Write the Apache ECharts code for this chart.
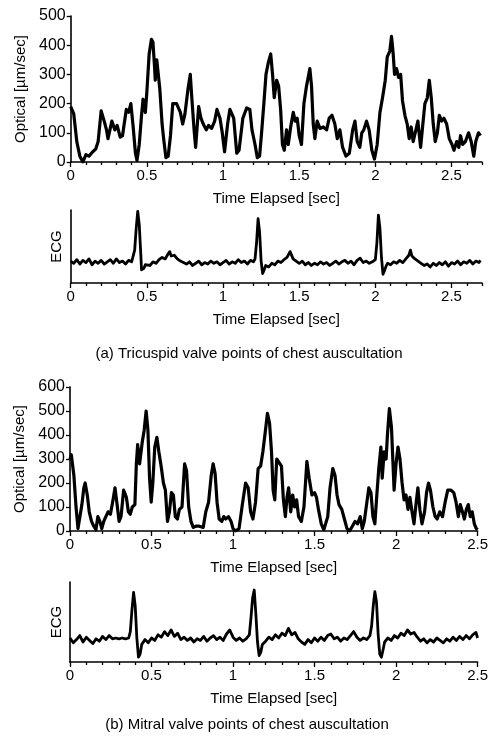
<!DOCTYPE html>
<html><head><meta charset="utf-8">
<script src="https://cdn.jsdelivr.net/npm/echarts@6/dist/echarts.min.js"></script>
<style>html,body{margin:0;padding:0;background:#fff}#c{width:491px;height:742px}</style>
</head><body><div id="c"></div>
<script>
// ---- data (time [sec], value) ----
const opticalA = [[0,190],[0.02,165],[0.04,70],[0.06,20],[0.08,0],[0.10,25],[0.12,20],[0.145,35],[0.165,45],[0.18,70],[0.20,175],[0.22,140],[0.235,110],[0.245,80],[0.27,140],[0.29,110],[0.305,125],[0.325,85],[0.34,90],[0.365,180],[0.38,170],[0.395,200],[0.41,120],[0.425,30],[0.435,5],[0.45,60],[0.465,160],[0.475,215],[0.49,170],[0.50,240],[0.515,370],[0.53,420],[0.54,410],[0.55,330],[0.555,280],[0.565,350],[0.575,300],[0.585,250],[0.60,130],[0.61,80],[0.625,15],[0.64,20],[0.655,90],[0.67,200],[0.695,200],[0.72,170],[0.735,130],[0.75,165],[0.77,250],[0.785,300],[0.795,220],[0.81,110],[0.82,50],[0.84,190],[0.855,150],[0.87,130],[0.89,110],[0.905,125],[0.925,115],[0.945,140],[0.96,180],[0.98,150],[0.995,100],[1.01,35],[1.03,130],[1.045,180],[1.07,150],[1.09,30],[1.105,40],[1.13,150],[1.155,185],[1.176,180],[1.19,110],[1.21,60],[1.225,15],[1.24,20],[1.253,100],[1.268,200],[1.282,300],[1.297,340],[1.313,370],[1.325,300],[1.336,220],[1.352,280],[1.365,260],[1.378,180],[1.39,60],[1.402,40],[1.417,110],[1.428,60],[1.444,120],[1.461,170],[1.474,140],[1.487,150],[1.5,90],[1.515,60],[1.531,200],[1.548,260],[1.57,320],[1.581,260],[1.592,130],[1.603,80],[1.618,140],[1.636,115],[1.658,120],[1.68,110],[1.697,150],[1.715,160],[1.734,130],[1.75,80],[1.767,110],[1.785,50],[1.807,20],[1.829,30],[1.851,110],[1.866,140],[1.881,70],[1.898,50],[1.911,100],[1.924,110],[1.942,140],[1.959,110],[1.977,40],[1.994,10],[2.012,60],[2.03,170],[2.047,220],[2.065,280],[2.078,360],[2.095,380],[2.106,430],[2.117,370],[2.126,300],[2.139,320],[2.152,290],[2.166,300],[2.178,210],[2.194,160],[2.209,130],[2.222,80],[2.235,120],[2.248,70],[2.266,110],[2.279,140],[2.297,50],[2.31,120],[2.325,200],[2.341,220],[2.354,280],[2.367,220],[2.38,130],[2.393,70],[2.407,100],[2.42,160],[2.435,140],[2.45,150],[2.468,130],[2.485,80],[2.503,60],[2.516,40],[2.534,70],[2.548,50],[2.559,90],[2.573,60],[2.591,70],[2.612,100],[2.629,70],[2.646,20],[2.659,70],[2.677,100],[2.69,90]];

const ecgA = [[0,.30],[.02,.27],[.04,.32],[.06,.26],[.08,.31],[.10,.28],[.12,.33],[.14,.25],[.16,.30],[.18,.27],[.20,.31],[.22,.26],[.24,.29],[.26,.32],[.28,.27],[.30,.33],[.32,.28],[.34,.30],[.36,.26],[.38,.31],[.40,.29],[.41,.30],[.42,.45],[.43,.75],[.44,.98],[.45,.80],[.46,.40],[.465,.18],[.47,.155],[.48,.20],[.49,.25],[.50,.27],[.52,.24],[.54,.29],[.56,.27],[.58,.32],[.60,.35],[.62,.33],[.64,.40],[.65,.43],[.66,.37],[.68,.38],[.70,.33],[.72,.30],[.74,.28],[.76,.26],[.78,.29],[.80,.24],[.82,.27],[.84,.30],[.86,.25],[.88,.28],[.90,.26],[.92,.30],[.94,.27],[.96,.29],[.98,.25],[1.00,.28],[1.02,.31],[1.04,.26],[1.06,.29],[1.08,.27],[1.10,.32],[1.12,.28],[1.14,.30],[1.16,.26],[1.18,.31],[1.20,.29],[1.21,.33],[1.22,.55],[1.23,.88],[1.24,.70],[1.25,.30],[1.26,.13],[1.27,.18],[1.28,.24],[1.30,.22],[1.32,.27],[1.34,.25],[1.36,.30],[1.38,.28],[1.40,.32],[1.42,.35],[1.44,.43],[1.46,.33],[1.48,.30],[1.50,.27],[1.52,.30],[1.54,.25],[1.56,.28],[1.58,.24],[1.60,.27],[1.62,.25],[1.64,.29],[1.66,.26],[1.68,.28],[1.70,.24],[1.72,.27],[1.74,.30],[1.76,.26],[1.78,.29],[1.80,.31],[1.82,.27],[1.84,.30],[1.86,.25],[1.88,.31],[1.90,.34],[1.92,.28],[1.94,.30],[1.96,.27],[1.98,.29],[2.00,.32],[2.01,.55],[2.02,.93],[2.03,.75],[2.04,.35],[2.05,.12],[2.06,.17],[2.07,.23],[2.08,.27],[2.10,.25],[2.12,.29],[2.14,.27],[2.16,.31],[2.18,.28],[2.20,.33],[2.22,.38],[2.23,.45],[2.24,.37],[2.26,.33],[2.28,.30],[2.30,.27],[2.32,.24],[2.34,.26],[2.36,.22],[2.38,.27],[2.40,.24],[2.42,.28],[2.44,.25],[2.46,.29],[2.48,.23],[2.50,.28],[2.52,.26],[2.54,.30],[2.56,.25],[2.58,.29],[2.60,.27],[2.62,.31],[2.64,.26],[2.66,.30],[2.68,.28],[2.69,.31]];

const opticalB = [[0,300],[0.008,318],[0.016,310],[0.024,230],[0.037,100],[0.049,10],[0.061,60],[0.073,110],[0.085,180],[0.093,200],[0.106,150],[0.118,80],[0.132,40],[0.146,20],[0.159,5],[0.171,60],[0.183,40],[0.195,10],[0.207,40],[0.22,60],[0.234,80],[0.248,70],[0.264,130],[0.276,180],[0.289,110],[0.301,40],[0.313,60],[0.329,170],[0.346,140],[0.358,80],[0.37,70],[0.382,100],[0.398,110],[0.407,280],[0.415,360],[0.427,280],[0.443,370],[0.455,420],[0.467,500],[0.478,420],[0.488,220],[0.498,120],[0.508,200],[0.52,350],[0.533,390],[0.545,330],[0.559,270],[0.573,200],[0.585,170],[0.598,40],[0.61,80],[0.622,160],[0.634,150],[0.646,60],[0.659,50],[0.671,90],[0.687,100],[0.703,280],[0.715,250],[0.728,100],[0.742,40],[0.756,15],[0.772,20],[0.793,20],[0.817,15],[0.833,80],[0.85,120],[0.866,230],[0.878,280],[0.89,240],[0.902,120],[0.915,50],[0.931,40],[0.943,60],[0.955,50],[0.972,60],[0.988,40],[1.0,10],[1.016,0],[1.037,10],[1.057,110],[1.077,200],[1.093,180],[1.108,80],[1.122,50],[1.138,120],[1.154,260],[1.169,270],[1.183,330],[1.199,420],[1.211,490],[1.224,450],[1.236,330],[1.246,170],[1.256,130],[1.268,300],[1.28,295],[1.297,270],[1.309,130],[1.321,60],[1.331,140],[1.341,180],[1.354,80],[1.366,150],[1.378,100],[1.39,130],[1.402,60],[1.419,40],[1.435,100],[1.453,290],[1.467,220],[1.484,150],[1.5,160],[1.512,140],[1.524,90],[1.541,30],[1.557,5],[1.569,0],[1.581,60],[1.595,180],[1.612,260],[1.626,230],[1.638,150],[1.65,110],[1.667,90],[1.683,50],[1.699,10],[1.715,0],[1.732,20],[1.748,40],[1.764,30],[1.78,60],[1.793,10],[1.805,40],[1.819,110],[1.833,180],[1.846,160],[1.858,60],[1.87,30],[1.882,150],[1.894,260],[1.907,350],[1.915,220],[1.927,330],[1.939,300],[1.947,400],[1.959,510],[1.972,430],[1.98,300],[1.988,170],[2.0,280],[2.012,350],[2.024,300],[2.037,200],[2.049,130],[2.061,150],[2.073,90],[2.085,140],[2.098,80],[2.11,30],[2.122,110],[2.134,180],[2.146,90],[2.159,30],[2.175,80],[2.187,160],[2.199,200],[2.211,170],[2.226,100],[2.24,60],[2.252,50],[2.268,80],[2.285,60],[2.301,120],[2.317,170],[2.337,170],[2.354,160],[2.368,120],[2.382,60],[2.394,110],[2.407,80],[2.419,50],[2.431,90],[2.443,110],[2.455,60],[2.467,80],[2.48,30],[2.492,10],[2.5,5]];

const ecgB = [[0,.30],[.02,.24],[.04,.28],[.06,.33],[.08,.25],[.10,.31],[.12,.27],[.14,.23],[.16,.29],[.18,.26],[.20,.32],[.22,.28],[.24,.33],[.26,.29],[.28,.30],[.30,.29],[.32,.30],[.34,.29],[.36,.30],[.37,.38],[.38,.65],[.39,.87],[.40,.70],[.41,.30],[.42,.06],[.43,.10],[.44,.22],[.46,.28],[.48,.24],[.50,.30],[.52,.27],[.54,.34],[.56,.31],[.58,.38],[.60,.33],[.62,.40],[.64,.32],[.66,.36],[.68,.28],[.70,.31],[.72,.27],[.74,.30],[.76,.25],[.78,.29],[.80,.27],[.82,.32],[.84,.26],[.86,.30],[.88,.33],[.90,.28],[.92,.31],[.94,.27],[.96,.35],[.98,.40],[1.00,.31],[1.02,.27],[1.04,.30],[1.06,.26],[1.08,.29],[1.10,.34],[1.11,.55],[1.12,.80],[1.13,.90],[1.14,.60],[1.15,.25],[1.16,.08],[1.17,.12],[1.18,.22],[1.20,.26],[1.22,.31],[1.24,.28],[1.26,.34],[1.28,.30],[1.30,.36],[1.32,.33],[1.34,.42],[1.36,.34],[1.38,.37],[1.40,.29],[1.42,.25],[1.44,.22],[1.46,.28],[1.48,.24],[1.50,.30],[1.52,.26],[1.54,.31],[1.56,.27],[1.58,.33],[1.60,.35],[1.62,.29],[1.64,.31],[1.66,.26],[1.68,.30],[1.70,.28],[1.72,.33],[1.74,.38],[1.76,.31],[1.78,.27],[1.80,.30],[1.82,.28],[1.84,.33],[1.85,.45],[1.86,.70],[1.87,.88],[1.88,.75],[1.89,.35],[1.90,.10],[1.91,.06],[1.92,.15],[1.93,.25],[1.95,.30],[1.97,.27],[1.99,.33],[2.01,.30],[2.03,.36],[2.05,.33],[2.07,.40],[2.09,.35],[2.11,.37],[2.13,.31],[2.15,.26],[2.17,.29],[2.19,.24],[2.21,.28],[2.23,.25],[2.25,.30],[2.27,.27],[2.29,.24],[2.31,.29],[2.33,.26],[2.35,.31],[2.37,.27],[2.39,.32],[2.41,.28],[2.43,.33],[2.45,.29],[2.47,.34],[2.49,.37],[2.50,.30]];

// ---- tick labels ----
const xMajorTicks = [0, 0.5, 1, 1.5, 2, 2.5];
const xMinorTicksA = [0.1,0.2,0.3,0.4,0.6,0.7,0.8,0.9,1.1,1.2,1.3,1.4,1.6,1.7,1.8,1.9,2.1,2.2,2.3,2.4,2.6,2.7];
const xMinorTicksB = [0.1,0.2,0.3,0.4,0.6,0.7,0.8,0.9,1.1,1.2,1.3,1.4,1.6,1.7,1.8,1.9,2.1,2.2,2.3,2.4];
const yTicksA = [0, 100, 200, 300, 400, 500];
const yTicksB = [0, 100, 200, 300, 400, 500, 600];
const captionA = '(a) Tricuspid valve points of chest auscultation';
const captionB = '(b) Mitral valve points of chest auscultation';

const F = '"Liberation Sans", Arial, Helvetica, sans-serif';
const BLACK = '#000';
const txt = {fontFamily: F, fontSize: 15, color: BLACK};

const grids = [
  {left: 70.7, top: 16, width: 411.3, height: 146},
  {left: 70.7, top: 210, width: 411.3, height: 73},
  {left: 70, top: 387, width: 410, height: 144},
  {left: 70, top: 582, width: 410, height: 80}
];

function xMain(gi, max) {
  return {type: 'value', gridIndex: gi, min: 0, max: max,
    name: 'Time Elapsed [sec]', nameLocation: 'middle', nameGap: 29, nameTextStyle: txt,
    axisLine: {onZero: false, lineStyle: {color: BLACK, width: 1.6}},
    axisTick: {customValues: xMajorTicks, length: 5, lineStyle: {color: BLACK, width: 1.3}},
    axisLabel: Object.assign({customValues: xMajorTicks, margin: 6}, txt),
    splitLine: {show: false}};
}
function xMinor(gi, max, ticks) {
  return {type: 'value', gridIndex: gi, min: 0, max: max, position: 'bottom',
    axisLine: {show: false},
    axisTick: {customValues: ticks, length: 3, lineStyle: {color: BLACK, width: 1.3}},
    axisLabel: {show: false}, splitLine: {show: false}};
}
function yOptical(gi, max, ticks) {
  return {type: 'value', gridIndex: gi, min: 0, max: max, interval: 100,
    name: 'Optical [\u00b5m/sec]', nameLocation: 'middle', nameGap: 40, nameTextStyle: txt,
    axisLine: {show: true, lineStyle: {color: BLACK, width: 1.6}},
    axisTick: {show: true, customValues: ticks, length: 4, lineStyle: {color: BLACK, width: 1.3}},
    axisLabel: Object.assign({customValues: ticks, margin: 5}, txt, {fontSize: 16}),
    splitLine: {show: false}};
}
function yEcg(gi) {
  return {type: 'value', gridIndex: gi, min: 0, max: 1,
    name: 'ECG', nameLocation: 'middle', nameGap: 6, nameTextStyle: txt,
    axisLine: {show: true, lineStyle: {color: BLACK, width: 1.6}},
    axisTick: {show: false}, axisLabel: {show: false}, splitLine: {show: false}};
}
function line(xi, yi, data, w) {
  return {type: 'line', xAxisIndex: xi, yAxisIndex: yi, data: data, showSymbol: false,
    symbol: 'none', lineStyle: {color: BLACK, width: w, join: 'round'}, itemStyle: {color: BLACK}, z: 3};
}

const chart = echarts.init(document.getElementById('c'), null, {renderer: 'canvas'});
chart.setOption({
  animation: false,
  backgroundColor: '#fff',
  grid: grids,
  xAxis: [xMain(0, 2.7), xMain(1, 2.7), xMain(2, 2.5), xMain(3, 2.5),
          xMinor(0, 2.7, xMinorTicksA), xMinor(1, 2.7, xMinorTicksA), xMinor(2, 2.5, xMinorTicksB), xMinor(3, 2.5, xMinorTicksB)],
  yAxis: [yOptical(0, 500, yTicksA), yEcg(1), yOptical(2, 600, yTicksB), yEcg(3)],
  series: [line(0, 0, opticalA, 3.2), line(1, 1, ecgA, 2.8), line(2, 2, opticalB, 3.2), line(3, 3, ecgB, 2.8)],
  graphic: [
    {type: 'text', style: {text: captionA, x: 249, y: 354, textAlign: 'center', textVerticalAlign: 'middle', font: '15px ' + F, fill: BLACK}},
    {type: 'text', style: {text: captionB, x: 247, y: 725, textAlign: 'center', textVerticalAlign: 'middle', font: '15px ' + F, fill: BLACK}}
  ]
});
</script></body></html>
